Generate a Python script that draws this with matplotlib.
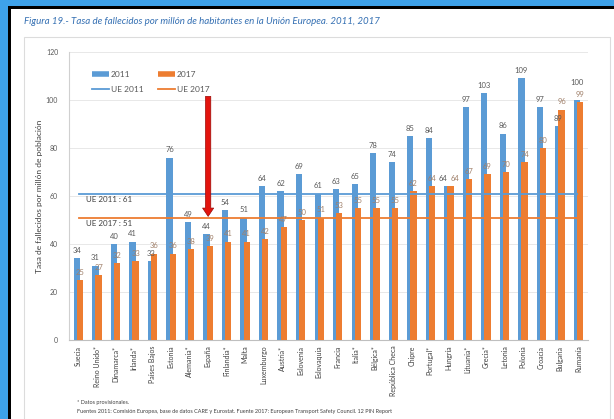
import numpy as np
import matplotlib.pyplot as plt
from matplotlib.patches import Rectangle
from matplotlib.lines import Line2D

paises = ["Suecia", "Reino Unido*", "Dinamarca*", "Irlanda*", "Países Bajos", "Estonia",
          "Alemania*", "España", "Finlandia*", "Malta", "Luxemburgo", "Austria*", "Eslovenia",
          "Eslovaquia", "Francia", "Italia*", "Bélgica*", "República Checa", "Chipre",
          "Portugal*", "Hungría", "Lituania*", "Grecia*", "Letonia", "Polonia", "Croacia",
          "Bulgaria", "Rumanía"]
tasa_2011 = [34, 31, 40, 41, 33, 76, 49, 44, 54, 51, 64, 62, 69, 61, 63, 65, 78, 74, 85, 84,
             64, 97, 103, 86, 109, 97, 89, 100]
tasa_2017 = [25, 27, 32, 33, 36, 36, 38, 39, 41, 41, 42, 47, 50, 51, 53, 55, 55, 55, 62, 64,
             64, 67, 69, 70, 74, 80, 96, 99]
ue_2011 = 61
ue_2017 = 51
yticks = [0, 20, 40, 60, 80, 100, 120]

AZUL = "#5b9bd5"
NARANJA = "#ed7d31"
GRIS = "#595959"
FONT = ["Lato", "DejaVu Sans"]
plt.rcParams["font.family"] = FONT

W, H = 614, 419
fig = plt.figure(figsize=(W / 100, H / 100), dpi=100)
fig.patch.set_facecolor("#3ea2ea")


def px_rect(x0, y0, x1, y1, **kw):
    # rectangle given in pixel coords (origin top-left)
    r = Rectangle((x0 / W, 1 - y1 / H), (x1 - x0) / W, (y1 - y0) / H,
                  transform=fig.transFigure, zorder=-10, **kw)
    fig.patches.append(r)


px_rect(8, 6, 700, 500, facecolor="black", edgecolor="none")
px_rect(11, 9, 700, 500, facecolor="white", edgecolor="none")
px_rect(24, 37, 610, 500, facecolor="white", edgecolor="#dcdcdc", lw=0.8)

fig.text(24 / W, 1 - 21 / H, "Figura 19.- Tasa de fallecidos por millón de habitantes en la Unión Europea. 2011, 2017",
         fontsize=7, style="italic", color="#3570b3", va="center", ha="left")

ax = fig.add_axes([69.25 / W, 1 - 340 / H, (587.75 - 69.25) / W, (340 - 52) / H])
ax.set_facecolor("none")
x = np.arange(len(paises))
off = 0.085
w = 0.34

ax.bar(x - off, tasa_2011, width=w, color=AZUL, zorder=2)
ax.bar(x + off, tasa_2017, width=w, color=NARANJA, zorder=3)

# etiquetas que se tocan: pequeños desplazamientos (puntos)
extra_2011 = {"Rumanía": (0, 7), "Hungría": (-3, 0)}
extra_2017 = {"Hungría": (3, 0)}
for i, p in enumerate(paises):
    dx, dy = extra_2011.get(p, (0, 0))
    ax.annotate(str(tasa_2011[i]), (x[i] - off, tasa_2011[i]), xytext=(dx, 3 + dy),
                textcoords="offset points", ha="center", va="bottom", fontsize=5.5, color=GRIS, zorder=5)
    dx, dy = extra_2017.get(p, (0, 0))
    ax.annotate(str(tasa_2017[i]), (x[i] + off, tasa_2017[i]), xytext=(dx, 3 + dy),
                textcoords="offset points", ha="center", va="bottom", fontsize=5.5, color="#a0806a", zorder=5)

ax.plot([0, 26.9], [ue_2011, ue_2011], color=AZUL, lw=1.3, zorder=4)
ax.plot([0, 26.9], [ue_2017, ue_2017], color=NARANJA, lw=1.3, zorder=4)
ax.text(0.4, ue_2011 - 1, "UE 2011 : %d" % ue_2011, fontsize=5.8, color="#404040", va="top", ha="left", zorder=6)
ax.text(0.4, ue_2017 - 1, "UE 2017 : %d" % ue_2017, fontsize=5.8, color="#404040", va="top", ha="left", zorder=6)

# flecha roja sobre España
ax.annotate("", xy=(7, 51.5), xytext=(7, 101.5),
            arrowprops=dict(arrowstyle="simple,head_length=0.6,head_width=0.8,tail_width=0.38",
                            fc="#e3140e", ec="#9a0a06", lw=0.5, mutation_scale=10, shrinkA=0, shrinkB=0),
            zorder=7)

ax.set_xlim(-0.5, len(paises) - 0.5)
ax.set_ylim(0, 120)
ax.set_yticks(yticks)
ax.set_yticklabels([str(t) for t in yticks], fontsize=5, color=GRIS)
ax.set_xticks(x)
ax.set_xticklabels(paises, rotation=90, fontsize=5, color="#404040")
ax.tick_params(axis="both", length=0)
ax.tick_params(axis="y", pad=8)
ax.tick_params(axis="x", pad=4)
ax.grid(axis="y", color="#e8e8e8", lw=0.7, zorder=0)
ax.set_axisbelow(True)
for s in ["top", "right"]:
    ax.spines[s].set_visible(False)
ax.spines["left"].set_color("#d0d0d0")
ax.spines["bottom"].set_color("#bfbfbf")
ax.spines["left"].set_linewidth(0.8)
ax.spines["bottom"].set_linewidth(0.8)
ax.set_ylabel("Tasa de fallecidos por millón de población", fontsize=6, color="#404040", labelpad=2)

handles = [Line2D([], [], color=AZUL, lw=4, solid_capstyle="butt"),
           Line2D([], [], color=AZUL, lw=1.3),
           Line2D([], [], color=NARANJA, lw=4, solid_capstyle="butt"),
           Line2D([], [], color=NARANJA, lw=1.3)]
labels = ["2011", "UE 2011", "2017", "UE 2017"]
ax.legend(handles, labels, ncol=2, frameon=False, loc="upper left", bbox_to_anchor=(0.03, 0.96),
          fontsize=6, labelcolor=GRIS, handlelength=2.0, handletextpad=0.2, columnspacing=1.8,
          labelspacing=0.9)

fig.text(77 / W, 1 - 402 / H, "* Datos provisionales.", fontsize=4, color="#404040", va="center")
fig.text(77 / W, 1 - 411 / H,
         "Fuentes 2011: Comisión Europea, base de datos CARE y Eurostat. Fuente 2017: European Transport Safety Council. 12 PIN Report",
         fontsize=4, color="#404040", va="center")

fig.savefig("out.png", dpi=100)
